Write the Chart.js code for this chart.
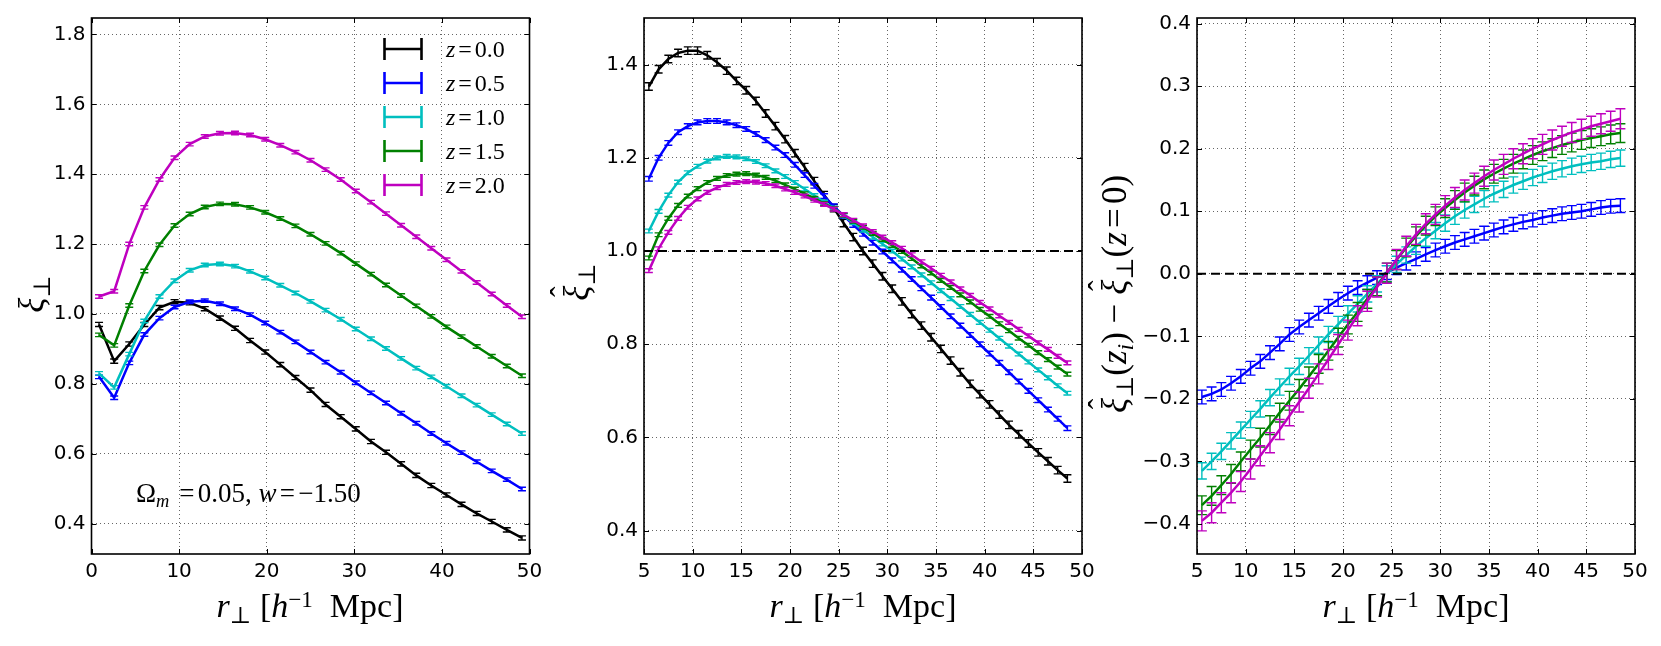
<!DOCTYPE html>
<html>
<head>
<meta charset="utf-8">
<title>xi perp vs r perp</title>
<script src="https://cdn.jsdelivr.net/npm/chart.js@4.4.1/dist/chart.umd.min.js"></script>
<style>
  body { margin: 0; background: #fff; }
  #page { position: relative; width: 1661px; height: 646px; overflow: hidden; background: #fff; }
  #page canvas { position: absolute; top: 0; }
  .math { position: absolute; font-family: 'Liberation Serif', 'DejaVu Serif', serif; color: #000; white-space: nowrap; line-height: 1; }
  .math i { font-style: italic; }
  .sub { font-size: 0.68em; position: relative; top: 0.28em; }
  .sup { font-size: 0.68em; position: relative; top: -0.45em; }
  .eq { margin: 0 0.12em; }
  .hat { position: relative; display: inline-block; }
  .hat .hc { position: absolute; left: 0.12em; top: -0.42em; font-style: normal; font-size: 0.9em; }
  .xlab { top: 589px; width: 320px; font-size: 34px; text-align: center; }
  .ylab { font-size: 35px; text-align: center; transform: rotate(-90deg); }
  .leg { position: absolute; height: 24px; }
  .leg svg { position: absolute; left: 0; top: 0; }
  .leg .lt { position: absolute; left: 63px; top: 0px; font-family: 'Liberation Serif', serif; font-size: 24px; line-height: 1; white-space: nowrap; }
</style>
</head>
<body>
<div id="page">
  <canvas id="c1" width="560" height="646" style="left:0px"></canvas>
  <canvas id="c2" width="560" height="646" style="left:560px"></canvas>
  <canvas id="c3" width="541" height="646" style="left:1120px"></canvas>

  <div class="math xlab" style="left:150px"><i>r</i><span class="sub">⊥</span> [<i>h</i><span class="sup">−1</span>&nbsp; Mpc]</div>
  <div class="math xlab" style="left:703px"><i>r</i><span class="sub">⊥</span> [<i>h</i><span class="sup">−1</span>&nbsp; Mpc]</div>
  <div class="math xlab" style="left:1256px"><i>r</i><span class="sub">⊥</span> [<i>h</i><span class="sup">−1</span>&nbsp; Mpc]</div>

  <div class="math ylab" style="left:-1px;top:274px;width:70px;height:40px"><i>ξ</i><span class="sub">⊥</span></div>
  <div class="math ylab" style="left:546px;top:260px;width:70px;height:44px"><span class="hat"><i>ξ</i><span class="hc">ˆ</span></span><span class="sub">⊥</span></div>
  <div class="math ylab" style="left:952px;top:274px;width:330px;height:40px"><span class="hat"><i>ξ</i><span class="hc">ˆ</span></span><span class="sub">⊥</span>(<i>z</i><span class="sub"><i>i</i></span>) − <span class="hat"><i>ξ</i><span class="hc">ˆ</span></span><span class="sub">⊥</span>(<i>z</i><span class="eq">=</span>0)</div>

  <div class="math" style="left:136px;top:480px;font-size:27px">Ω<span class="sub"><i>m</i></span> <span class="eq">=</span>0.05, <i>w</i><span class="eq">=</span>−1.50</div>
  <div id="legend"></div>
</div>

<script>
// redshift labels and colours, one per series
const zLabels = ['0.0', '0.5', '1.0', '1.5', '2.0'];
const colors = ['#000000', '#0000ff', '#00bfbf', '#008000', '#bf00bf'];

// left panel: xi_perp
const p1X = [0.86, 2.59, 4.31, 6.03, 7.76, 9.48, 11.21, 12.93, 14.66, 16.38, 18.10, 19.83, 21.55, 23.28, 25.00,
  26.72, 28.45, 30.17, 31.90, 33.62, 35.34, 37.07, 38.79, 40.52, 42.24, 43.97, 45.69, 47.41, 49.14];
const p1K = [0.970, 0.865, 0.914, 0.970, 1.018, 1.035, 1.032, 1.015, 0.988, 0.959, 0.924, 0.891, 0.855, 0.818, 0.782,
  0.741, 0.706, 0.671, 0.635, 0.604, 0.571, 0.538, 0.509, 0.482, 0.455, 0.429, 0.406, 0.382, 0.359];
const p1B = [0.820, 0.760, 0.860, 0.941, 0.988, 1.020, 1.035, 1.038, 1.029, 1.015, 0.998, 0.974, 0.948, 0.920, 0.891,
  0.862, 0.833, 0.803, 0.774, 0.745, 0.716, 0.687, 0.658, 0.630, 0.603, 0.577, 0.551, 0.526, 0.499];
const p1C = [0.830, 0.790, 0.885, 0.980, 1.050, 1.095, 1.125, 1.140, 1.143, 1.137, 1.122, 1.103, 1.082, 1.060, 1.036,
  1.011, 0.985, 0.957, 0.929, 0.901, 0.873, 0.845, 0.820, 0.793, 0.766, 0.739, 0.712, 0.685, 0.658];
const p1G = [0.940, 0.910, 1.024, 1.123, 1.198, 1.253, 1.286, 1.306, 1.315, 1.314, 1.305, 1.291, 1.273, 1.252, 1.228,
  1.202, 1.174, 1.144, 1.114, 1.083, 1.053, 1.023, 0.993, 0.963, 0.935, 0.907, 0.879, 0.851, 0.823];
const p1M = [1.050, 1.065, 1.200, 1.305, 1.385, 1.447, 1.486, 1.508, 1.517, 1.518, 1.512, 1.500, 1.483, 1.463, 1.440,
  1.413, 1.385, 1.352, 1.320, 1.287, 1.254, 1.221, 1.188, 1.155, 1.122, 1.090, 1.057, 1.024, 0.992];
const p1Err = [0.006, 0.005, 0.005, 0.005, 0.005];
const p1XTicks = [0, 10, 20, 30, 40, 50];
const p1YTicks = [0.4, 0.6, 0.8, 1.0, 1.2, 1.4, 1.6, 1.8];

// middle panel: normalised xi_perp
const p2X = [5.5, 6.5, 7.5, 8.5, 9.5, 10.5, 11.5, 12.5, 13.5, 14.5, 15.5, 16.5, 17.5, 18.5, 19.5, 20.5, 21.5, 22.5,
  23.5, 24.5, 25.5, 26.5, 27.5, 28.5, 29.5, 30.5, 31.5, 32.5, 33.5, 34.5, 35.5, 36.5, 37.5, 38.5, 39.5, 40.5,
  41.5, 42.5, 43.5, 44.5, 45.5, 46.5, 47.5, 48.5];
const p2K = [1.353, 1.390, 1.412, 1.425, 1.430, 1.430, 1.420, 1.405, 1.387, 1.365, 1.345, 1.322, 1.295, 1.268, 1.240,
  1.210, 1.180, 1.150, 1.120, 1.092, 1.060, 1.030, 1.000, 0.973, 0.946, 0.919, 0.892, 0.865, 0.840, 0.815, 0.790,
  0.765, 0.740, 0.715, 0.693, 0.671, 0.649, 0.627, 0.607, 0.587, 0.568, 0.549, 0.530, 0.512];
const p2B = [1.155, 1.200, 1.232, 1.255, 1.268, 1.276, 1.279, 1.279, 1.276, 1.270, 1.262, 1.251, 1.238, 1.222, 1.206,
  1.185, 1.163, 1.140, 1.118, 1.096, 1.076, 1.056, 1.037, 1.018, 0.999, 0.980, 0.960, 0.940, 0.920, 0.900, 0.880,
  0.860, 0.840, 0.820, 0.800, 0.780, 0.760, 0.740, 0.720, 0.700, 0.680, 0.660, 0.640, 0.620];
const p2C = [1.043, 1.085, 1.120, 1.148, 1.168, 1.182, 1.193, 1.200, 1.203, 1.202, 1.198, 1.192, 1.183, 1.172, 1.160,
  1.147, 1.133, 1.119, 1.105, 1.092, 1.076, 1.061, 1.045, 1.030, 1.015, 1.000, 0.983, 0.966, 0.949, 0.932, 0.915,
  0.898, 0.881, 0.864, 0.847, 0.830, 0.813, 0.796, 0.779, 0.762, 0.745, 0.728, 0.711, 0.695];
const p2G = [0.985, 1.035, 1.070, 1.098, 1.118, 1.134, 1.147, 1.156, 1.162, 1.165, 1.166, 1.163, 1.158, 1.151, 1.142,
  1.133, 1.123, 1.113, 1.102, 1.091, 1.077, 1.064, 1.051, 1.038, 1.025, 1.012, 0.999, 0.984, 0.968, 0.953, 0.937,
  0.922, 0.906, 0.891, 0.875, 0.860, 0.844, 0.829, 0.813, 0.798, 0.782, 0.767, 0.751, 0.736];
const p2M = [0.958, 1.005, 1.040, 1.070, 1.094, 1.112, 1.126, 1.136, 1.143, 1.147, 1.149, 1.148, 1.145, 1.140, 1.133,
  1.126, 1.118, 1.109, 1.100, 1.090, 1.078, 1.066, 1.054, 1.042, 1.030, 1.018, 1.006, 0.992, 0.977, 0.963, 0.948,
  0.934, 0.919, 0.905, 0.890, 0.876, 0.861, 0.847, 0.832, 0.818, 0.803, 0.789, 0.774, 0.760];
const p2Err = [0.008, 0.005, 0.004, 0.004, 0.004];
const p2Ref = 1.0;
const p2XTicks = [5, 10, 15, 20, 25, 30, 35, 40, 45, 50];
const p2YTicks = [0.4, 0.6, 0.8, 1.0, 1.2, 1.4];

// right panel: difference to z=0
const p3X = p2X;
const p3B = [-0.197, -0.192, -0.185, -0.175, -0.164, -0.151, -0.140, -0.126, -0.112, -0.097, -0.085, -0.074, -0.063,
  -0.052, -0.041, -0.031, -0.022, -0.014, -0.006, 0.002, 0.010, 0.017, 0.024, 0.031, 0.038, 0.044, 0.050, 0.055,
  0.060, 0.065, 0.070, 0.075, 0.079, 0.083, 0.086, 0.090, 0.093, 0.096, 0.098, 0.100, 0.103, 0.106, 0.108, 0.109];
const p3C = [-0.315, -0.300, -0.284, -0.267, -0.250, -0.233, -0.216, -0.198, -0.181, -0.164, -0.148, -0.131, -0.114,
  -0.097, -0.081, -0.064, -0.048, -0.032, -0.016, 0.000, 0.015, 0.030, 0.044, 0.057, 0.069, 0.081, 0.092, 0.102,
  0.111, 0.120, 0.128, 0.135, 0.142, 0.148, 0.154, 0.159, 0.164, 0.168, 0.172, 0.175, 0.178, 0.180, 0.183, 0.185];
const p3G = [-0.370, -0.355, -0.338, -0.320, -0.300, -0.281, -0.262, -0.242, -0.222, -0.203, -0.184, -0.164, -0.144,
  -0.123, -0.102, -0.081, -0.061, -0.040, -0.020, 0.002, 0.022, 0.042, 0.060, 0.077, 0.092, 0.105, 0.118, 0.130,
  0.141, 0.151, 0.160, 0.168, 0.176, 0.183, 0.190, 0.196, 0.201, 0.206, 0.210, 0.214, 0.217, 0.220, 0.223, 0.225];
const p3M = [-0.395, -0.382, -0.366, -0.350, -0.332, -0.312, -0.291, -0.270, -0.249, -0.227, -0.205, -0.183, -0.160,
  -0.137, -0.113, -0.090, -0.067, -0.044, -0.021, 0.001, 0.023, 0.044, 0.063, 0.080, 0.095, 0.109, 0.122, 0.134,
  0.145, 0.156, 0.166, 0.175, 0.184, 0.192, 0.200, 0.207, 0.214, 0.220, 0.226, 0.231, 0.236, 0.240, 0.244, 0.248];
const p3Err = [0.011, 0.013, 0.015, 0.016];
const p3Ref = 0.0;
const p3XTicks = p2XTicks;
const p3YTicks = [-0.4, -0.3, -0.2, -0.1, 0.0, 0.1, 0.2, 0.3, 0.4];

const tickFont = { family: "'DejaVu Sans', sans-serif", size: 20 };
const fmtNum = v => v.toFixed(1).replace('-', '\u2212');

// error bars drawn after each line, like matplotlib errorbar
const errorBars = {
    id: 'errorBars',
    afterDatasetDraw(chart, args) {
        const ds = chart.data.datasets[args.index];
        if (!ds.errBar) return;
        const ctx = chart.ctx;
        const xs = chart.scales.x;
        const ys = chart.scales.y;
        const cap = ds.capHalf;
        ctx.save();
        ctx.strokeStyle = ds.borderColor;
        ctx.lineWidth = 1.4;
        ctx.beginPath();
        ds.data.forEach(p => {
            const px = xs.getPixelForValue(p.x);
            const top = ys.getPixelForValue(p.y + ds.errBar);
            const bot = ys.getPixelForValue(p.y - ds.errBar);
            ctx.moveTo(px, top); ctx.lineTo(px, bot);
            ctx.moveTo(px - cap, top); ctx.lineTo(px + cap, top);
            ctx.moveTo(px - cap, bot); ctx.lineTo(px + cap, bot);
        });
        ctx.stroke();
        ctx.restore();
    }
};

// box round the plot plus inward tick marks
const frame = {
    id: 'frame',
    afterDraw(chart) {
        const { ctx, chartArea: a, scales } = chart;
        ctx.save();
        ctx.strokeStyle = '#000';
        ctx.lineWidth = 1;
        ctx.beginPath();
        scales.x.ticks.forEach(t => {
            const px = Math.round(scales.x.getPixelForValue(t.value)) + 0.5;
            ctx.moveTo(px, a.top); ctx.lineTo(px, a.top + 5);
            ctx.moveTo(px, a.bottom); ctx.lineTo(px, a.bottom - 5);
        });
        scales.y.ticks.forEach(t => {
            const py = Math.round(scales.y.getPixelForValue(t.value)) + 0.5;
            ctx.moveTo(a.left, py); ctx.lineTo(a.left + 5, py);
            ctx.moveTo(a.right, py); ctx.lineTo(a.right - 5, py);
        });
        ctx.stroke();
        ctx.lineWidth = 1.6;
        ctx.strokeRect(a.left, a.top, a.right - a.left, a.bottom - a.top);
        ctx.restore();
    }
};

function makePanel(id, cfg) {
    const datasets = cfg.series.map((ys, i) => ({
        data: cfg.x.map((x, j) => ({ x: x, y: ys[j] })),
        borderColor: cfg.colors[i],
        borderWidth: 2.5,
        pointRadius: 0,
        tension: 0,
        fill: false,
        order: cfg.series.length - i + 1,
        errBar: cfg.err[i],
        capHalf: cfg.capHalf
    }));
    if (cfg.ref !== undefined) {
        datasets.push({
            data: [{ x: cfg.xMin, y: cfg.ref }, { x: cfg.xMax, y: cfg.ref }],
            borderColor: '#000',
            borderWidth: 2,
            borderDash: [9, 5],
            pointRadius: 0,
            order: 0
        });
    }
    const axis = (min, max, ticks, fmt, fit) => ({
        type: 'linear',
        min: min,
        max: max,
        afterBuildTicks: s => { s.ticks = ticks.map(v => ({ value: v })); },
        afterFit: fit,
        grid: { color: 'rgba(0,0,0,0.6)', lineWidth: 1, drawTicks: false },
        border: { display: false, dash: [1, 3] },
        ticks: { font: tickFont, color: '#000', padding: 6, maxRotation: 0, autoSkip: false, callback: fmt }
    });
    return new Chart(document.getElementById(id), {
        type: 'line',
        data: { datasets },
        options: {
            responsive: false,
            animation: false,
            events: [],
            layout: { padding: { top: 18, right: cfg.padRight, left: 0, bottom: 0 } },
            plugins: { legend: { display: false }, tooltip: { enabled: false } },
            scales: {
                x: axis(cfg.xMin, cfg.xMax, cfg.xTicks, v => String(v), s => { s.height = 92; }),
                y: axis(cfg.yMin, cfg.yMax, cfg.yTicks, fmtNum, s => { s.width = cfg.yWidth; })
            }
        },
        plugins: [errorBars, frame]
    });
}

makePanel('c1', {
    x: p1X, series: [p1K, p1B, p1C, p1G, p1M], colors: colors, err: p1Err, capHalf: 4,
    xMin: 0, xMax: 50, yMin: 0.313, yMax: 1.847, xTicks: p1XTicks, yTicks: p1YTicks,
    yWidth: 91.5, padRight: 30.5
});
makePanel('c2', {
    x: p2X, series: [p2K, p2B, p2C, p2G, p2M], colors: colors, err: p2Err, capHalf: 4, ref: p2Ref,
    xMin: 5, xMax: 50, yMin: 0.35, yMax: 1.5, xTicks: p2XTicks, yTicks: p2YTicks,
    yWidth: 84, padRight: 38
});
makePanel('c3', {
    x: p3X, series: [p3B, p3C, p3G, p3M], colors: colors.slice(1), err: p3Err, capHalf: 5, ref: p3Ref,
    xMin: 5, xMax: 50, yMin: -0.448, yMax: 0.409, xTicks: p3XTicks, yTicks: p3YTicks,
    yWidth: 77, padRight: 26
});

// legend of the left panel
const legend = document.getElementById('legend');
zLabels.forEach((z, i) => {
    const row = document.createElement('div');
    row.className = 'leg';
    row.style.left = '383px';
    row.style.top = (37 + i * 33.9) + 'px';
    row.innerHTML = `
        <svg width="42" height="24"><path d="M1.5 1 V23 M1.5 12 H38.5 M38.5 1 V23" stroke="${colors[i]}" stroke-width="2.6" fill="none"/></svg>
        <div class="lt"><i>z</i><span class="eq">=</span>${z}</div>`;
    legend.appendChild(row);
});
</script>
</body>
</html>
